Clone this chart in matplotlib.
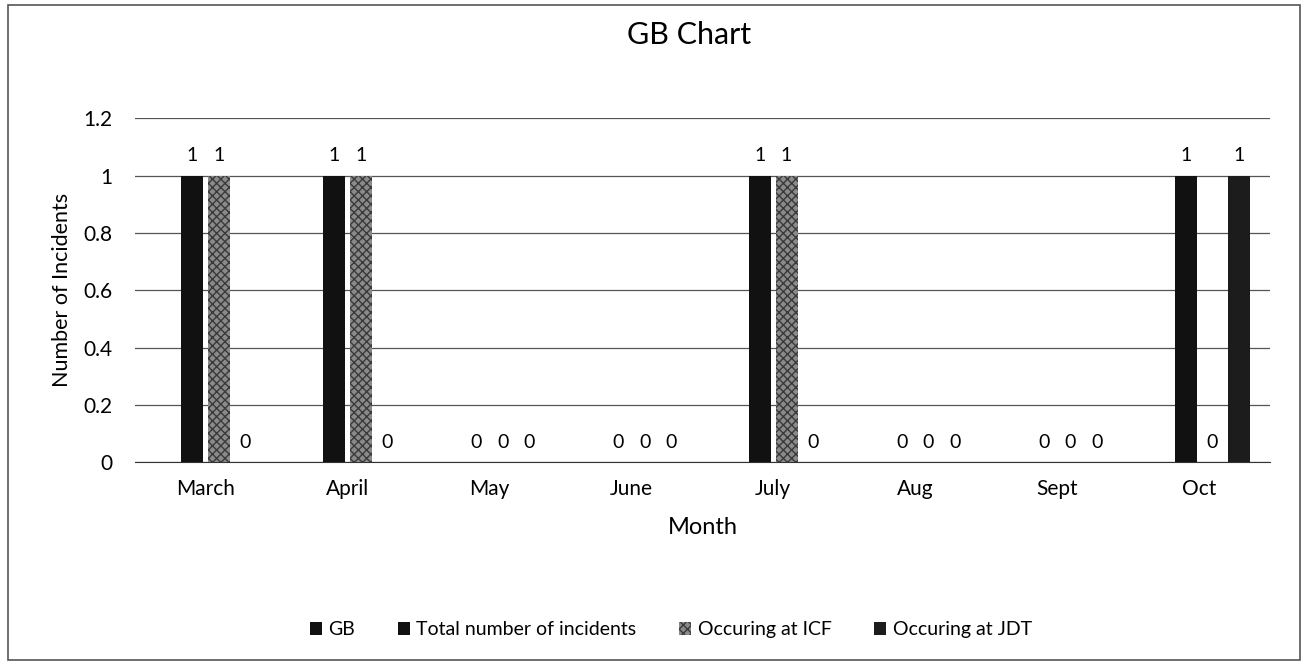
import numpy as np
import matplotlib.pyplot as plt
from matplotlib.patches import Rectangle

months = ["March", "April", "May", "June", "July", "Aug", "Sept", "Oct"]
gb = [np.nan] * 8
total = [1, 1, 0, 0, 1, 0, 0, 1]
icf = [1, 1, 0, 0, 1, 0, 0, 0]
jdt = [0, 0, 0, 0, 0, 0, 0, 1]

plt.rcParams['font.family'] = ['Lato', 'DejaVu Sans']

fig = plt.figure(figsize=(13.08, 6.68), dpi=100)
ax = fig.add_axes([0.103, 0.308, 0.868, 0.515])

x = np.arange(len(months))
slot = 0.186
bw = 0.155
series = [
    ("GB", gb, dict(color="#111111")),
    ("Total number of incidents", total, dict(color="#111111")),
    ("Occuring at ICF", icf, dict(color="#8a8a8a", hatch="xxxx", edgecolor="#3a3a3a", linewidth=0)),
    ("Occuring at JDT", jdt, dict(color="#1c1c1c")),
]

for i, (name, vals, style) in enumerate(series):
    pos = x + (i - 1.5) * slot
    ax.bar(pos, vals, bw, label=name, zorder=3, **style)
    if name == "GB":
        continue
    # value labels, zeros sit just above the axis
    for p, v in zip(pos, vals):
        ax.text(p, v + 0.04 if v > 0 else 0.04, str(v), ha="center", va="bottom",
                fontsize=14)

ax.set_xlim(-0.5, 7.5)
ax.set_ylim(0, 1.2)
ax.set_yticks([0, 0.2, 0.4, 0.6, 0.8, 1, 1.2])
ax.set_yticklabels(["0", "0.2", "0.4", "0.6", "0.8", "1", "1.2"], fontsize=15)
ax.set_xticks(x)
ax.set_xticklabels(months, fontsize=15)
ax.tick_params(axis="y", length=0, pad=16)
ax.tick_params(axis="x", length=0, pad=12)
ax.grid(axis="y", color="#555555", linewidth=0.9, zorder=0)
for s in ["top", "right", "left"]:
    ax.spines[s].set_visible(False)
ax.spines["bottom"].set_color("#333333")

fig.text(0.527, 0.948, "GB Chart", ha="center", va="center", fontsize=22)
ax.set_xlabel("Month", fontsize=17, labelpad=13)
ax.set_ylabel("Number of Incidents", fontsize=15.5, labelpad=8)

fig.legend(loc="center", bbox_to_anchor=(0.513, 0.057), ncol=4, frameon=False,
           fontsize=14, handlelength=0.6, handleheight=0.6, columnspacing=2.2,
           handletextpad=0.35)

fig.patches.append(Rectangle((0.006, 0.012), 0.988, 0.98, transform=fig.transFigure,
                             fill=False, edgecolor="#555555", linewidth=1.2))

fig.savefig("out.png", dpi=100)
